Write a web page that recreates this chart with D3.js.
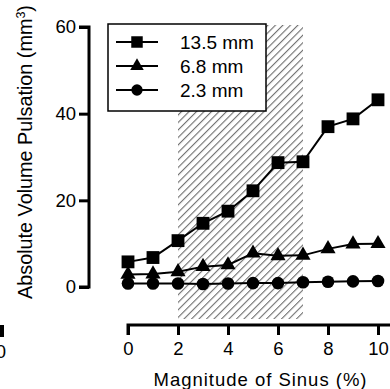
<!DOCTYPE html>
<html lang="en">
<head>
  <meta charset="UTF-8" />
  <title>Absolute Volume Pulsation</title>
  <script src="https://d3js.org/d3.v7.min.js"></script>
  <style>
    body {
      margin: 0;
      background-color: #fff;
      font-family: 'Liberation Sans', Arial, sans-serif;
    }
    svg {
      display: block;
    }
  </style>
</head>
<body>
  <svg width="390" height="389"></svg>
  <script>
    const magnitude = [0, 1, 2, 3, 4, 5, 6, 7, 8, 9, 10];
    const series13 = [5.8, 6.8, 10.7, 14.7, 17.5, 22.2, 28.7, 28.9, 37.0, 38.8, 43.2];
    const series68 = [2.9, 3.0, 3.5, 4.7, 5.1, 7.8, 7.2, 7.3, 8.8, 9.9, 10.0];
    const series23 = [0.8, 0.8, 0.8, 0.7, 0.8, 0.9, 0.9, 1.1, 1.2, 1.3, 1.4];
    const seriesNames = ["13.5 mm", "6.8 mm", "2.3 mm"];
    const xTicks = [0, 2, 4, 6, 8, 10];
    const yTicks = [0, 20, 40, 60];
    const shadeRange = [2, 7];

    const svg = d3.select("svg");

    const x = d3.scaleLinear().domain([0, 10]).range([128, 378]);
    const y = d3.scaleLinear().domain([0, 60]).range([287, 27]);

    // hatch pattern
    const defs = svg.append("defs");
    defs.append("pattern")
      .attr("id", "hatch")
      .attr("patternUnits", "userSpaceOnUse")
      .attr("width", 5.3)
      .attr("height", 5.3)
      .attr("patternTransform", "rotate(45)")
      .append("line")
      .attr("x1", 0).attr("y1", 0)
      .attr("x2", 0).attr("y2", 5.3)
      .attr("stroke", "#6e6e6e")
      .attr("stroke-width", 2.2);

    svg.append("rect")
      .attr("x", x(shadeRange[0]))
      .attr("y", y(60) - 2)
      .attr("width", x(shadeRange[1]) - x(shadeRange[0]))
      .attr("height", 319 - y(60) + 2)
      .attr("fill", "url(#hatch)");

    // y axis
    const yAxis = svg.append("g")
      .attr("transform", "translate(89,0)")
      .call(d3.axisLeft(y).tickValues(yTicks).tickSize(10).tickPadding(3));
    yAxis.select(".domain").attr("d", `M-10,${y(60)}H0V${y(0)}H-10`).attr("stroke-width", 3);
    yAxis.selectAll(".tick line").attr("stroke-width", 3);
    yAxis.selectAll(".tick text").attr("font-size", 18.5).attr("fill", "#000")
      .attr("font-family", "'Liberation Sans', Arial, sans-serif");

    // x axis
    const xAxis = svg.append("g")
      .attr("transform", "translate(0,325)")
      .call(d3.axisBottom(x).tickValues(xTicks).tickSize(10).tickPadding(7));
    xAxis.select(".domain").attr("d", `M${x(0)},10V0H392`).attr("stroke-width", 3);
    xAxis.selectAll(".tick line").attr("stroke-width", 3);
    xAxis.selectAll(".tick text").attr("font-size", 18.5).attr("fill", "#000")
      .attr("font-family", "'Liberation Sans', Arial, sans-serif");

    // axis titles
    svg.append("text")
      .attr("x", 260).attr("y", 386)
      .attr("text-anchor", "middle")
      .attr("font-size", 18.5)
      .attr("textLength", 213)
      .text("Magnitude of Sinus (%)");

    const yTitle = svg.append("text")
      .attr("transform", "translate(32,152) rotate(-90)")
      .attr("text-anchor", "middle")
      .attr("font-size", 19.8);
    yTitle.append("tspan").text("Absolute Volume Pulsation (mm");
    yTitle.append("tspan").attr("font-size", 12.5).attr("dy", -7).text("3");
    yTitle.append("tspan").attr("dy", 7).text(")");

    // fragment of neighbouring panel at bottom left
    svg.append("rect").attr("x", 0).attr("y", 325).attr("width", 4).attr("height", 12).attr("fill", "#000");
    svg.append("text").attr("x", 1).attr("y", 358).attr("text-anchor", "middle").attr("font-size", 18.5).text("0");

    // series
    const seriesList = [
      { name: seriesNames[0], values: series13, symbol: d3.symbolSquare, size: 165 },
      { name: seriesNames[1], values: series68, symbol: d3.symbolTriangle, size: 100 },
      { name: seriesNames[2], values: series23, symbol: d3.symbolCircle, size: 125 }
    ];

    const line = d3.line()
      .x((d, i) => x(magnitude[i]))
      .y(d => y(d));

    seriesList.slice().reverse().forEach(s => {
      svg.append("path")
        .attr("d", line(s.values))
        .attr("fill", "none")
        .attr("stroke", "#000")
        .attr("stroke-width", 2);
      svg.selectAll(null)
        .data(s.values)
        .enter()
        .append("path")
        .attr("transform", (d, i) => `translate(${x(magnitude[i])},${y(d)})`)
        .attr("d", d3.symbol().type(s.symbol).size(s.size))
        .attr("fill", "#000");
    });

    // legend
    const legend = svg.append("g");
    legend.append("rect")
      .attr("x", 108).attr("y", 24)
      .attr("width", 158).attr("height", 87)
      .attr("fill", "#fff")
      .attr("stroke", "#000")
      .attr("stroke-width", 1.5);
    seriesList.forEach((s, i) => {
      const ly = 42 + i * 24;
      legend.append("line")
        .attr("x1", 116).attr("x2", 158)
        .attr("y1", ly).attr("y2", ly)
        .attr("stroke", "#000").attr("stroke-width", 2);
      legend.append("path")
        .attr("transform", `translate(137,${ly})`)
        .attr("d", d3.symbol().type(s.symbol).size(s.size * 0.8))
        .attr("fill", "#000");
      legend.append("text")
        .attr("x", 180).attr("y", ly + 7)
        .attr("font-size", 19)
        .text(s.name);
    });
  </script>
</body>
</html>
